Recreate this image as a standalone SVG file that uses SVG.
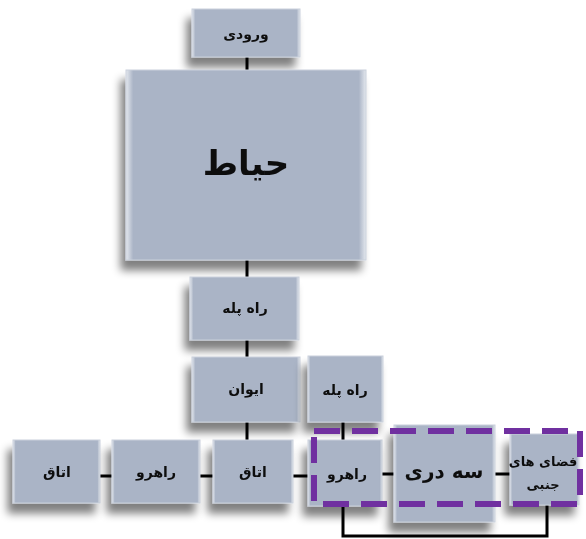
<svg xmlns="http://www.w3.org/2000/svg" width="586" height="539" viewBox="0 0 586 539">
<defs>
<filter id="sh" x="-20%" y="-20%" width="150%" height="160%">
<feGaussianBlur in="SourceAlpha" stdDeviation="4"/>
<feOffset dx="-5" dy="10" result="b"/>
<feComponentTransfer><feFuncA type="linear" slope="0.5"/></feComponentTransfer>
<feMerge><feMergeNode/><feMergeNode in="SourceGraphic"/></feMerge>
</filter>
<linearGradient id="g" x1="0" y1="0" x2="1" y2="0">
<stop offset="0" stop-color="#e4e8ee"/>
<stop offset="0.03" stop-color="#aab4c6"/>
<stop offset="0.97" stop-color="#aab4c6"/>
<stop offset="1" stop-color="#e4e8ee"/>
</linearGradient>
</defs>
<style>
.box{fill:url(#g);stroke:#c9d0db;stroke-width:1}
.t{font-family:"DejaVu Sans",sans-serif;font-weight:bold;fill:#111;text-anchor:middle;dominant-baseline:central;direction:rtl}
.c{stroke:#000;stroke-width:3;fill:none}
.frame{fill:none;stroke:#7030a0;stroke-width:6;stroke-dasharray:26 12}
</style>
<g id="connectors">
<line class="c" x1="247" y1="57" x2="247" y2="70"/>
<line class="c" x1="247" y1="260" x2="247" y2="277"/>
<line class="c" x1="247" y1="340" x2="247" y2="357"/>
<line class="c" x1="247" y1="422" x2="247" y2="440"/>
<line class="c" x1="343" y1="422" x2="343" y2="440"/>
<line class="c" x1="100" y1="476" x2="112" y2="476"/>
<line class="c" x1="200" y1="476" x2="213" y2="476"/>
<line class="c" x1="293" y1="476" x2="308" y2="476"/>
<line class="c" x1="382" y1="474" x2="394" y2="474"/>
<line class="c" x1="495" y1="474" x2="510" y2="474"/>
<polyline class="c" points="343,505 343,536 547,536 547,505"/>
</g>
<g id="n-vorudi" filter="url(#sh)">
<rect class="box" x="192" y="9" width="108" height="48"/>
<text class="t" x="246" y="34" font-size="14">ورودی</text>
</g>
<g id="n-hayat" filter="url(#sh)">
<rect class="box" x="126" y="70" width="240" height="190"/>
<text class="t" x="246" y="163" font-size="34">حیاط</text>
</g>
<g id="n-rahpele1" filter="url(#sh)">
<rect class="box" x="190" y="277" width="109" height="63"/>
<text class="t" x="245" y="308" font-size="14">راه پله</text>
</g>
<g id="n-eyvan" filter="url(#sh)">
<rect class="box" x="192" y="357" width="108" height="65"/>
<text class="t" x="246" y="389" font-size="14">ایوان</text>
</g>
<g id="n-rahpele2" filter="url(#sh)">
<rect class="box" x="308" y="356" width="75" height="66"/>
<text class="t" x="345" y="390" font-size="14">راه پله</text>
</g>
<g id="n-otagh1" filter="url(#sh)">
<rect class="box" x="13" y="440" width="87" height="63"/>
<text class="t" x="57" y="472" font-size="14">اتاق</text>
</g>
<g id="n-rahro1" filter="url(#sh)">
<rect class="box" x="112" y="440" width="88" height="63"/>
<text class="t" x="156" y="472" font-size="14">راهرو</text>
</g>
<g id="n-otagh2" filter="url(#sh)">
<rect class="box" x="213" y="440" width="80" height="63"/>
<text class="t" x="253" y="472" font-size="14">اتاق</text>
</g>
<g id="n-rahro2" filter="url(#sh)">
<rect class="box" x="308" y="440" width="74" height="66"/>
<text class="t" x="347" y="474" font-size="14">راهرو</text>
</g>
<g id="n-sedari" filter="url(#sh)">
<rect class="box" x="394" y="425" width="101" height="97"/>
<text class="t" x="444" y="471" font-size="20">سه دری</text>
</g>
<g id="n-fazaha" filter="url(#sh)">
<rect class="box" x="510" y="434" width="69" height="71"/>
<text class="t" x="543" y="461" font-size="13">فضای های</text>
<text class="t" x="543" y="484" font-size="13">جنبی</text>
</g>
<g id="frame">
<rect class="frame" x="314" y="431" width="266" height="73"/>
</g>
</svg>
